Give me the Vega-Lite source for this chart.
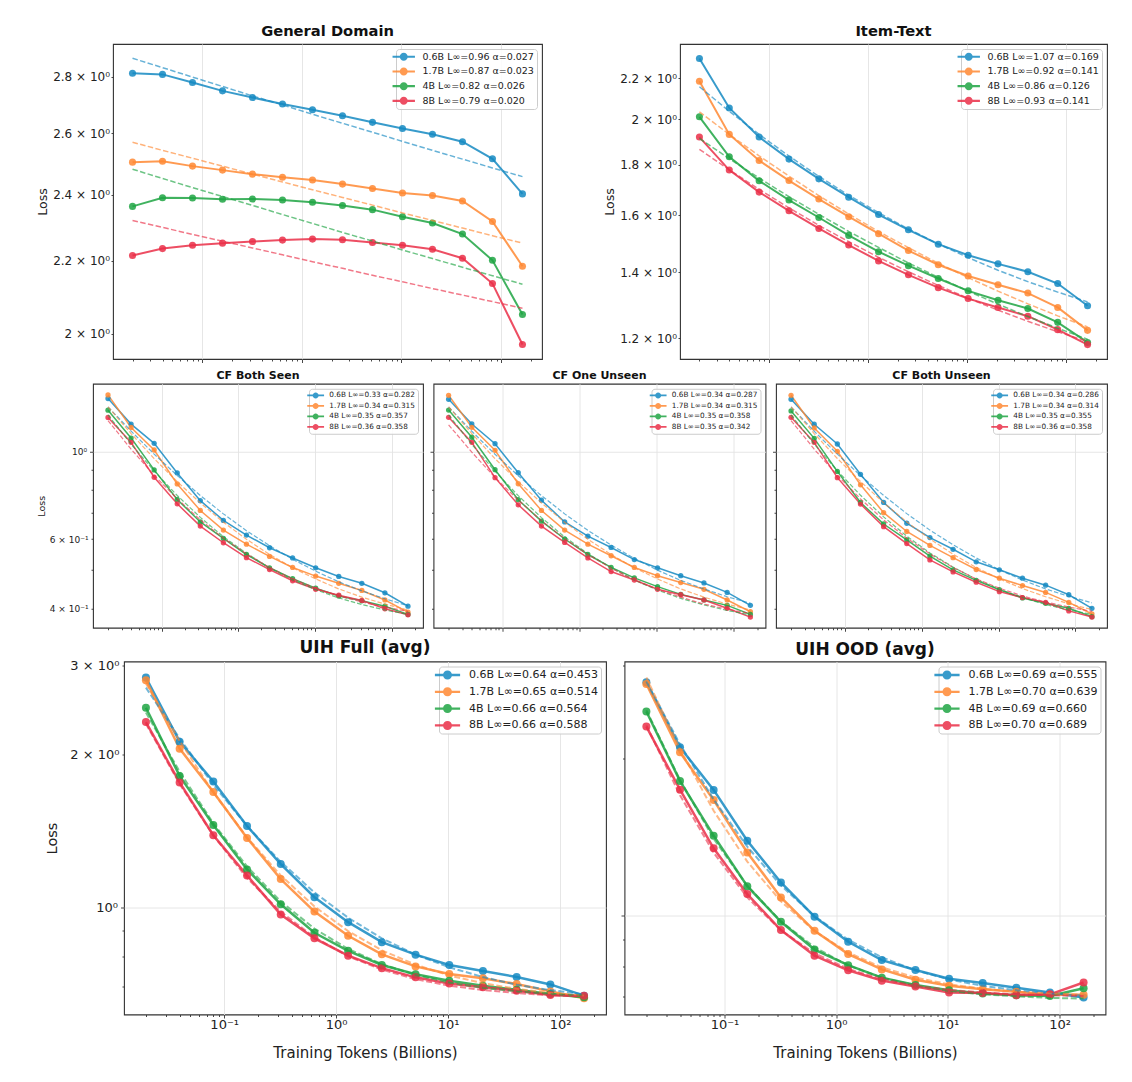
{
  "$schema": "https://vega.github.io/schema/vega-lite/v6.json",
  "padding": {"left": 34, "top": 23, "right": 5, "bottom": 5},
  "config": {
    "font": "DejaVu Sans",
    "view": {"stroke": "#333333", "strokeWidth": 1.1},
    "axis": {"domain": false, "tickColor": "#333333", "tickWidth": 0.9, "labelColor": "#222222", "titleColor": "#222222", "titleFontWeight": "normal", "gridColor": "#e3e3e3", "gridWidth": 0.9, "labelPadding": 3},
    "legend": {"title": null, "orient": "top-right", "offset": 5, "padding": 3, "fillColor": "rgba(255,255,255,0.85)", "strokeColor": "#cccccc", "cornerRadius": 3, "symbolStrokeWidth": 0, "symbolOpacity": 0.85, "labelLimit": 400, "labelColor": "#222222",
      "symbolType": "M-2.8,-0.26H2.8V0.26H-2.8Z M1,0A1,1 0 1,1 -1,0A1,1 0 1,1 1,0Z"},
    "title": {"fontWeight": "bold", "color": "#111111", "anchor": "middle"}
  },
  "datasets": {
    "d": [
      {"p":"gd","m":"0.6B","x":0.02,"y":2.813,"f":2.869},{"p":"gd","m":"0.6B","x":0.04,"y":2.809,"f":2.834},{"p":"gd","m":"0.6B","x":0.08,"y":2.779,"f":2.799},{"p":"gd","m":"0.6B","x":0.16,"y":2.749,"f":2.765},{"p":"gd","m":"0.6B","x":0.32,"y":2.725,"f":2.731},{"p":"gd","m":"0.6B","x":0.64,"y":2.702,"f":2.699},{"p":"gd","m":"0.6B","x":1.28,"y":2.682,"f":2.666},{"p":"gd","m":"0.6B","x":2.56,"y":2.661,"f":2.635},{"p":"gd","m":"0.6B","x":5.12,"y":2.638,"f":2.604},{"p":"gd","m":"0.6B","x":10.24,"y":2.617,"f":2.573},{"p":"gd","m":"0.6B","x":20.48,"y":2.597,"f":2.543},{"p":"gd","m":"0.6B","x":40.96,"y":2.572,"f":2.514},{"p":"gd","m":"0.6B","x":81.92,"y":2.515,"f":2.485},{"p":"gd","m":"0.6B","x":163.84,"y":2.402,"f":2.457},
      {"p":"gd","m":"1.7B","x":0.02,"y":2.504,"f":2.570},{"p":"gd","m":"1.7B","x":0.04,"y":2.507,"f":2.543},{"p":"gd","m":"1.7B","x":0.08,"y":2.491,"f":2.517},{"p":"gd","m":"1.7B","x":0.16,"y":2.478,"f":2.491},{"p":"gd","m":"1.7B","x":0.32,"y":2.465,"f":2.465},{"p":"gd","m":"1.7B","x":0.64,"y":2.455,"f":2.440},{"p":"gd","m":"1.7B","x":1.28,"y":2.446,"f":2.415},{"p":"gd","m":"1.7B","x":2.56,"y":2.433,"f":2.391},{"p":"gd","m":"1.7B","x":5.12,"y":2.419,"f":2.367},{"p":"gd","m":"1.7B","x":10.24,"y":2.405,"f":2.343},{"p":"gd","m":"1.7B","x":20.48,"y":2.397,"f":2.320},{"p":"gd","m":"1.7B","x":40.96,"y":2.380,"f":2.297},{"p":"gd","m":"1.7B","x":81.92,"y":2.317,"f":2.274},{"p":"gd","m":"1.7B","x":163.84,"y":2.185,"f":2.252},
      {"p":"gd","m":"4B","x":0.02,"y":2.363,"f":2.481},{"p":"gd","m":"4B","x":0.04,"y":2.390,"f":2.451},{"p":"gd","m":"4B","x":0.08,"y":2.389,"f":2.422},{"p":"gd","m":"4B","x":0.16,"y":2.385,"f":2.394},{"p":"gd","m":"4B","x":0.32,"y":2.386,"f":2.366},{"p":"gd","m":"4B","x":0.64,"y":2.383,"f":2.338},{"p":"gd","m":"4B","x":1.28,"y":2.376,"f":2.311},{"p":"gd","m":"4B","x":2.56,"y":2.366,"f":2.284},{"p":"gd","m":"4B","x":5.12,"y":2.353,"f":2.258},{"p":"gd","m":"4B","x":10.24,"y":2.331,"f":2.232},{"p":"gd","m":"4B","x":20.48,"y":2.312,"f":2.207},{"p":"gd","m":"4B","x":40.96,"y":2.279,"f":2.182},{"p":"gd","m":"4B","x":81.92,"y":2.202,"f":2.158},{"p":"gd","m":"4B","x":163.84,"y":2.051,"f":2.134},
      {"p":"gd","m":"8B","x":0.02,"y":2.216,"f":2.320},{"p":"gd","m":"8B","x":0.04,"y":2.236,"f":2.299},{"p":"gd","m":"8B","x":0.08,"y":2.246,"f":2.278},{"p":"gd","m":"8B","x":0.16,"y":2.252,"f":2.258},{"p":"gd","m":"8B","x":0.32,"y":2.257,"f":2.238},{"p":"gd","m":"8B","x":0.64,"y":2.261,"f":2.218},{"p":"gd","m":"8B","x":1.28,"y":2.264,"f":2.198},{"p":"gd","m":"8B","x":2.56,"y":2.262,"f":2.179},{"p":"gd","m":"8B","x":5.12,"y":2.254,"f":2.159},{"p":"gd","m":"8B","x":10.24,"y":2.246,"f":2.141},{"p":"gd","m":"8B","x":20.48,"y":2.234,"f":2.122},{"p":"gd","m":"8B","x":40.96,"y":2.208,"f":2.104},{"p":"gd","m":"8B","x":81.92,"y":2.136,"f":2.086},{"p":"gd","m":"8B","x":163.84,"y":1.972,"f":2.068},

      {"p":"it","m":"0.6B","x":0.02,"y":2.305,"f":2.158},{"p":"it","m":"0.6B","x":0.04,"y":2.054,"f":2.038},{"p":"it","m":"0.6B","x":0.08,"y":1.919,"f":1.931},{"p":"it","m":"0.6B","x":0.16,"y":1.823,"f":1.836},{"p":"it","m":"0.6B","x":0.32,"y":1.741,"f":1.751},{"p":"it","m":"0.6B","x":0.64,"y":1.668,"f":1.676},{"p":"it","m":"0.6B","x":1.28,"y":1.602,"f":1.609},{"p":"it","m":"0.6B","x":2.56,"y":1.546,"f":1.549},{"p":"it","m":"0.6B","x":5.12,"y":1.495,"f":1.496},{"p":"it","m":"0.6B","x":10.24,"y":1.457,"f":1.449},{"p":"it","m":"0.6B","x":20.48,"y":1.428,"f":1.407},{"p":"it","m":"0.6B","x":40.96,"y":1.402,"f":1.370},{"p":"it","m":"0.6B","x":81.92,"y":1.364,"f":1.337},{"p":"it","m":"0.6B","x":163.84,"y":1.295,"f":1.307},
      {"p":"it","m":"1.7B","x":0.02,"y":2.186,"f":2.035},{"p":"it","m":"1.7B","x":0.04,"y":1.931,"f":1.931},{"p":"it","m":"1.7B","x":0.08,"y":1.817,"f":1.837},{"p":"it","m":"1.7B","x":0.16,"y":1.734,"f":1.752},{"p":"it","m":"1.7B","x":0.32,"y":1.661,"f":1.674},{"p":"it","m":"1.7B","x":0.64,"y":1.594,"f":1.604},{"p":"it","m":"1.7B","x":1.28,"y":1.532,"f":1.540},{"p":"it","m":"1.7B","x":2.56,"y":1.473,"f":1.483},{"p":"it","m":"1.7B","x":5.12,"y":1.425,"f":1.430},{"p":"it","m":"1.7B","x":10.24,"y":1.388,"f":1.383},{"p":"it","m":"1.7B","x":20.48,"y":1.360,"f":1.340},{"p":"it","m":"1.7B","x":40.96,"y":1.334,"f":1.301},{"p":"it","m":"1.7B","x":81.92,"y":1.290,"f":1.265},{"p":"it","m":"1.7B","x":163.84,"y":1.223,"f":1.233},
      {"p":"it","m":"4B","x":0.02,"y":2.012,"f":1.913},{"p":"it","m":"4B","x":0.04,"y":1.833,"f":1.825},{"p":"it","m":"4B","x":0.08,"y":1.733,"f":1.744},{"p":"it","m":"4B","x":0.16,"y":1.657,"f":1.670},{"p":"it","m":"4B","x":0.32,"y":1.591,"f":1.603},{"p":"it","m":"4B","x":0.64,"y":1.526,"f":1.540},{"p":"it","m":"4B","x":1.28,"y":1.469,"f":1.484},{"p":"it","m":"4B","x":2.56,"y":1.422,"f":1.431},{"p":"it","m":"4B","x":5.12,"y":1.380,"f":1.384},{"p":"it","m":"4B","x":10.24,"y":1.341,"f":1.340},{"p":"it","m":"4B","x":20.48,"y":1.312,"f":1.300},{"p":"it","m":"4B","x":40.96,"y":1.287,"f":1.263},{"p":"it","m":"4B","x":81.92,"y":1.246,"f":1.229},{"p":"it","m":"4B","x":163.84,"y":1.189,"f":1.198},
      {"p":"it","m":"8B","x":0.02,"y":1.919,"f":1.865},{"p":"it","m":"8B","x":0.04,"y":1.777,"f":1.778},{"p":"it","m":"8B","x":0.08,"y":1.688,"f":1.699},{"p":"it","m":"8B","x":0.16,"y":1.616,"f":1.627},{"p":"it","m":"8B","x":0.32,"y":1.551,"f":1.562},{"p":"it","m":"8B","x":0.64,"y":1.492,"f":1.504},{"p":"it","m":"8B","x":1.28,"y":1.438,"f":1.450},{"p":"it","m":"8B","x":2.56,"y":1.392,"f":1.402},{"p":"it","m":"8B","x":5.12,"y":1.351,"f":1.358},{"p":"it","m":"8B","x":10.24,"y":1.317,"f":1.318},{"p":"it","m":"8B","x":20.48,"y":1.290,"f":1.282},{"p":"it","m":"8B","x":40.96,"y":1.264,"f":1.249},{"p":"it","m":"8B","x":81.92,"y":1.225,"f":1.219},{"p":"it","m":"8B","x":163.84,"y":1.183,"f":1.192},

      {"p":"cs","m":"0.6B","x":0.02,"y":1.365,"f":1.300},{"p":"cs","m":"0.6B","x":0.04,"y":1.175,"f":1.128},{"p":"cs","m":"0.6B","x":0.08,"y":1.050,"f":0.986},{"p":"cs","m":"0.6B","x":0.16,"y":0.883,"f":0.870},{"p":"cs","m":"0.6B","x":0.32,"y":0.751,"f":0.774},{"p":"cs","m":"0.6B","x":0.64,"y":0.669,"f":0.695},{"p":"cs","m":"0.6B","x":1.28,"y":0.614,"f":0.630},{"p":"cs","m":"0.6B","x":2.56,"y":0.570,"f":0.577},{"p":"cs","m":"0.6B","x":5.12,"y":0.537,"f":0.533},{"p":"cs","m":"0.6B","x":10.24,"y":0.507,"f":0.497},{"p":"cs","m":"0.6B","x":20.48,"y":0.482,"f":0.467},{"p":"cs","m":"0.6B","x":40.96,"y":0.463,"f":0.443},{"p":"cs","m":"0.6B","x":81.92,"y":0.438,"f":0.423},{"p":"cs","m":"0.6B","x":163.84,"y":0.405,"f":0.406},
      {"p":"cs","m":"1.7B","x":0.02,"y":1.394,"f":1.300},{"p":"cs","m":"1.7B","x":0.04,"y":1.152,"f":1.112},{"p":"cs","m":"1.7B","x":0.08,"y":1.010,"f":0.960},{"p":"cs","m":"1.7B","x":0.16,"y":0.828,"f":0.839},{"p":"cs","m":"1.7B","x":0.32,"y":0.709,"f":0.741},{"p":"cs","m":"1.7B","x":0.64,"y":0.632,"f":0.662},{"p":"cs","m":"1.7B","x":1.28,"y":0.582,"f":0.599},{"p":"cs","m":"1.7B","x":2.56,"y":0.542,"f":0.548},{"p":"cs","m":"1.7B","x":5.12,"y":0.508,"f":0.507},{"p":"cs","m":"1.7B","x":10.24,"y":0.483,"f":0.475},{"p":"cs","m":"1.7B","x":20.48,"y":0.463,"f":0.448},{"p":"cs","m":"1.7B","x":40.96,"y":0.444,"f":0.427},{"p":"cs","m":"1.7B","x":81.92,"y":0.420,"f":0.410},{"p":"cs","m":"1.7B","x":163.84,"y":0.391,"f":0.396},
      {"p":"cs","m":"4B","x":0.02,"y":1.275,"f":1.240},{"p":"cs","m":"4B","x":0.04,"y":1.083,"f":1.045},{"p":"cs","m":"4B","x":0.08,"y":0.899,"f":0.893},{"p":"cs","m":"4B","x":0.16,"y":0.756,"f":0.774},{"p":"cs","m":"4B","x":0.32,"y":0.663,"f":0.681},{"p":"cs","m":"4B","x":0.64,"y":0.602,"f":0.608},{"p":"cs","m":"4B","x":1.28,"y":0.548,"f":0.552},{"p":"cs","m":"4B","x":2.56,"y":0.507,"f":0.507},{"p":"cs","m":"4B","x":5.12,"y":0.476,"f":0.473},{"p":"cs","m":"4B","x":10.24,"y":0.450,"f":0.446},{"p":"cs","m":"4B","x":20.48,"y":0.430,"f":0.425},{"p":"cs","m":"4B","x":40.96,"y":0.418,"f":0.409},{"p":"cs","m":"4B","x":81.92,"y":0.405,"f":0.396},{"p":"cs","m":"4B","x":163.84,"y":0.386,"f":0.386},
      {"p":"cs","m":"8B","x":0.02,"y":1.222,"f":1.200},{"p":"cs","m":"8B","x":0.04,"y":1.056,"f":1.015},{"p":"cs","m":"8B","x":0.08,"y":0.861,"f":0.871},{"p":"cs","m":"8B","x":0.16,"y":0.737,"f":0.759},{"p":"cs","m":"8B","x":0.32,"y":0.647,"f":0.671},{"p":"cs","m":"8B","x":0.64,"y":0.587,"f":0.603},{"p":"cs","m":"8B","x":1.28,"y":0.538,"f":0.550},{"p":"cs","m":"8B","x":2.56,"y":0.502,"f":0.508},{"p":"cs","m":"8B","x":5.12,"y":0.470,"f":0.475},{"p":"cs","m":"8B","x":10.24,"y":0.447,"f":0.450},{"p":"cs","m":"8B","x":20.48,"y":0.432,"f":0.430},{"p":"cs","m":"8B","x":40.96,"y":0.419,"f":0.415},{"p":"cs","m":"8B","x":81.92,"y":0.399,"f":0.403},{"p":"cs","m":"8B","x":163.84,"y":0.385,"f":0.393},

      {"p":"co","m":"0.6B","x":0.02,"y":1.359,"f":1.300},{"p":"co","m":"0.6B","x":0.04,"y":1.176,"f":1.127},{"p":"co","m":"0.6B","x":0.08,"y":1.048,"f":0.985},{"p":"co","m":"0.6B","x":0.16,"y":0.884,"f":0.869},{"p":"co","m":"0.6B","x":0.32,"y":0.753,"f":0.773},{"p":"co","m":"0.6B","x":0.64,"y":0.663,"f":0.695},{"p":"co","m":"0.6B","x":1.28,"y":0.610,"f":0.631},{"p":"co","m":"0.6B","x":2.56,"y":0.571,"f":0.579},{"p":"co","m":"0.6B","x":5.12,"y":0.532,"f":0.536},{"p":"co","m":"0.6B","x":10.24,"y":0.507,"f":0.500},{"p":"co","m":"0.6B","x":20.48,"y":0.484,"f":0.471},{"p":"co","m":"0.6B","x":40.96,"y":0.464,"f":0.448},{"p":"co","m":"0.6B","x":81.92,"y":0.439,"f":0.428},{"p":"co","m":"0.6B","x":163.84,"y":0.407,"f":0.412},
      {"p":"co","m":"1.7B","x":0.02,"y":1.391,"f":1.300},{"p":"co","m":"1.7B","x":0.04,"y":1.153,"f":1.112},{"p":"co","m":"1.7B","x":0.08,"y":1.008,"f":0.960},{"p":"co","m":"1.7B","x":0.16,"y":0.829,"f":0.839},{"p":"co","m":"1.7B","x":0.32,"y":0.709,"f":0.741},{"p":"co","m":"1.7B","x":0.64,"y":0.632,"f":0.662},{"p":"co","m":"1.7B","x":1.28,"y":0.582,"f":0.599},{"p":"co","m":"1.7B","x":2.56,"y":0.544,"f":0.548},{"p":"co","m":"1.7B","x":5.12,"y":0.508,"f":0.507},{"p":"co","m":"1.7B","x":10.24,"y":0.484,"f":0.475},{"p":"co","m":"1.7B","x":20.48,"y":0.465,"f":0.448},{"p":"co","m":"1.7B","x":40.96,"y":0.447,"f":0.427},{"p":"co","m":"1.7B","x":81.92,"y":0.420,"f":0.410},{"p":"co","m":"1.7B","x":163.84,"y":0.392,"f":0.396},
      {"p":"co","m":"4B","x":0.02,"y":1.276,"f":1.240},{"p":"co","m":"4B","x":0.04,"y":1.088,"f":1.044},{"p":"co","m":"4B","x":0.08,"y":0.900,"f":0.892},{"p":"co","m":"4B","x":0.16,"y":0.755,"f":0.773},{"p":"co","m":"4B","x":0.32,"y":0.666,"f":0.680},{"p":"co","m":"4B","x":0.64,"y":0.600,"f":0.607},{"p":"co","m":"4B","x":1.28,"y":0.548,"f":0.551},{"p":"co","m":"4B","x":2.56,"y":0.508,"f":0.507},{"p":"co","m":"4B","x":5.12,"y":0.478,"f":0.472},{"p":"co","m":"4B","x":10.24,"y":0.454,"f":0.445},{"p":"co","m":"4B","x":20.48,"y":0.434,"f":0.424},{"p":"co","m":"4B","x":40.96,"y":0.420,"f":0.408},{"p":"co","m":"4B","x":81.92,"y":0.407,"f":0.395},{"p":"co","m":"4B","x":163.84,"y":0.386,"f":0.385},
      {"p":"co","m":"8B","x":0.02,"y":1.223,"f":1.170},{"p":"co","m":"8B","x":0.04,"y":1.056,"f":0.997},{"p":"co","m":"8B","x":0.08,"y":0.859,"f":0.860},{"p":"co","m":"8B","x":0.16,"y":0.733,"f":0.753},{"p":"co","m":"8B","x":0.32,"y":0.647,"f":0.668},{"p":"co","m":"8B","x":0.64,"y":0.588,"f":0.601},{"p":"co","m":"8B","x":1.28,"y":0.537,"f":0.548},{"p":"co","m":"8B","x":2.56,"y":0.496,"f":0.506},{"p":"co","m":"8B","x":5.12,"y":0.472,"f":0.473},{"p":"co","m":"8B","x":10.24,"y":0.447,"f":0.447},{"p":"co","m":"8B","x":20.48,"y":0.433,"f":0.427},{"p":"co","m":"8B","x":40.96,"y":0.420,"f":0.410},{"p":"co","m":"8B","x":81.92,"y":0.400,"f":0.398},{"p":"co","m":"8B","x":163.84,"y":0.380,"f":0.388},

      {"p":"cu","m":"0.6B","x":0.02,"y":1.359,"f":1.300},{"p":"cu","m":"0.6B","x":0.04,"y":1.174,"f":1.127},{"p":"cu","m":"0.6B","x":0.08,"y":1.046,"f":0.986},{"p":"cu","m":"0.6B","x":0.16,"y":0.876,"f":0.870},{"p":"cu","m":"0.6B","x":0.32,"y":0.743,"f":0.774},{"p":"cu","m":"0.6B","x":0.64,"y":0.658,"f":0.696},{"p":"cu","m":"0.6B","x":1.28,"y":0.605,"f":0.632},{"p":"cu","m":"0.6B","x":2.56,"y":0.565,"f":0.580},{"p":"cu","m":"0.6B","x":5.12,"y":0.525,"f":0.537},{"p":"cu","m":"0.6B","x":10.24,"y":0.501,"f":0.501},{"p":"cu","m":"0.6B","x":20.48,"y":0.477,"f":0.472},{"p":"cu","m":"0.6B","x":40.96,"y":0.458,"f":0.448},{"p":"cu","m":"0.6B","x":81.92,"y":0.433,"f":0.429},{"p":"cu","m":"0.6B","x":163.84,"y":0.400,"f":0.413},
      {"p":"cu","m":"1.7B","x":0.02,"y":1.391,"f":1.300},{"p":"cu","m":"1.7B","x":0.04,"y":1.149,"f":1.112},{"p":"cu","m":"1.7B","x":0.08,"y":1.002,"f":0.961},{"p":"cu","m":"1.7B","x":0.16,"y":0.824,"f":0.840},{"p":"cu","m":"1.7B","x":0.32,"y":0.700,"f":0.742},{"p":"cu","m":"1.7B","x":0.64,"y":0.627,"f":0.663},{"p":"cu","m":"1.7B","x":1.28,"y":0.578,"f":0.600},{"p":"cu","m":"1.7B","x":2.56,"y":0.538,"f":0.549},{"p":"cu","m":"1.7B","x":5.12,"y":0.502,"f":0.508},{"p":"cu","m":"1.7B","x":10.24,"y":0.477,"f":0.475},{"p":"cu","m":"1.7B","x":20.48,"y":0.457,"f":0.449},{"p":"cu","m":"1.7B","x":40.96,"y":0.439,"f":0.428},{"p":"cu","m":"1.7B","x":81.92,"y":0.414,"f":0.411},{"p":"cu","m":"1.7B","x":163.84,"y":0.387,"f":0.397},
      {"p":"cu","m":"4B","x":0.02,"y":1.269,"f":1.240},{"p":"cu","m":"4B","x":0.04,"y":1.081,"f":1.046},{"p":"cu","m":"4B","x":0.08,"y":0.891,"f":0.894},{"p":"cu","m":"4B","x":0.16,"y":0.743,"f":0.775},{"p":"cu","m":"4B","x":0.32,"y":0.655,"f":0.683},{"p":"cu","m":"4B","x":0.64,"y":0.597,"f":0.610},{"p":"cu","m":"4B","x":1.28,"y":0.543,"f":0.553},{"p":"cu","m":"4B","x":2.56,"y":0.501,"f":0.509},{"p":"cu","m":"4B","x":5.12,"y":0.471,"f":0.474},{"p":"cu","m":"4B","x":10.24,"y":0.446,"f":0.447},{"p":"cu","m":"4B","x":20.48,"y":0.425,"f":0.426},{"p":"cu","m":"4B","x":40.96,"y":0.412,"f":0.409},{"p":"cu","m":"4B","x":81.92,"y":0.400,"f":0.396},{"p":"cu","m":"4B","x":163.84,"y":0.381,"f":0.386},
      {"p":"cu","m":"8B","x":0.02,"y":1.223,"f":1.200},{"p":"cu","m":"8B","x":0.04,"y":1.056,"f":1.015},{"p":"cu","m":"8B","x":0.08,"y":0.859,"f":0.871},{"p":"cu","m":"8B","x":0.16,"y":0.736,"f":0.759},{"p":"cu","m":"8B","x":0.32,"y":0.645,"f":0.671},{"p":"cu","m":"8B","x":0.64,"y":0.584,"f":0.603},{"p":"cu","m":"8B","x":1.28,"y":0.531,"f":0.550},{"p":"cu","m":"8B","x":2.56,"y":0.495,"f":0.508},{"p":"cu","m":"8B","x":5.12,"y":0.466,"f":0.475},{"p":"cu","m":"8B","x":10.24,"y":0.441,"f":0.450},{"p":"cu","m":"8B","x":20.48,"y":0.426,"f":0.430},{"p":"cu","m":"8B","x":40.96,"y":0.414,"f":0.415},{"p":"cu","m":"8B","x":81.92,"y":0.394,"f":0.403},{"p":"cu","m":"8B","x":163.84,"y":0.380,"f":0.393},

      {"p":"uf","m":"0.6B","x":0.02,"y":2.836,"f":2.710},{"p":"uf","m":"0.6B","x":0.04,"y":2.121,"f":2.152},{"p":"uf","m":"0.6B","x":0.08,"y":1.771,"f":1.745},{"p":"uf","m":"0.6B","x":0.16,"y":1.447,"f":1.447},{"p":"uf","m":"0.6B","x":0.32,"y":1.218,"f":1.230},{"p":"uf","m":"0.6B","x":0.64,"y":1.048,"f":1.071},{"p":"uf","m":"0.6B","x":1.28,"y":0.936,"f":0.955},{"p":"uf","m":"0.6B","x":2.56,"y":0.855,"f":0.870},{"p":"uf","m":"0.6B","x":5.12,"y":0.808,"f":0.808},{"p":"uf","m":"0.6B","x":10.24,"y":0.771,"f":0.763},{"p":"uf","m":"0.6B","x":20.48,"y":0.750,"f":0.730},{"p":"uf","m":"0.6B","x":40.96,"y":0.730,"f":0.705},{"p":"uf","m":"0.6B","x":81.92,"y":0.706,"f":0.688},{"p":"uf","m":"0.6B","x":163.84,"y":0.671,"f":0.675},
      {"p":"uf","m":"1.7B","x":0.02,"y":2.802,"f":2.760},{"p":"uf","m":"1.7B","x":0.04,"y":2.055,"f":2.128},{"p":"uf","m":"1.7B","x":0.08,"y":1.688,"f":1.685},{"p":"uf","m":"1.7B","x":0.16,"y":1.371,"f":1.375},{"p":"uf","m":"1.7B","x":0.32,"y":1.138,"f":1.157},{"p":"uf","m":"1.7B","x":0.64,"y":0.982,"f":1.005},{"p":"uf","m":"1.7B","x":1.28,"y":0.880,"f":0.899},{"p":"uf","m":"1.7B","x":2.56,"y":0.809,"f":0.824},{"p":"uf","m":"1.7B","x":5.12,"y":0.766,"f":0.772},{"p":"uf","m":"1.7B","x":10.24,"y":0.740,"f":0.735},{"p":"uf","m":"1.7B","x":20.48,"y":0.726,"f":0.710},{"p":"uf","m":"1.7B","x":40.96,"y":0.707,"f":0.692},{"p":"uf","m":"1.7B","x":81.92,"y":0.684,"f":0.679},{"p":"uf","m":"1.7B","x":163.84,"y":0.663,"f":0.671},
      {"p":"uf","m":"4B","x":0.02,"y":2.473,"f":2.420},{"p":"uf","m":"4B","x":0.04,"y":1.816,"f":1.851},{"p":"uf","m":"4B","x":0.08,"y":1.454,"f":1.465},{"p":"uf","m":"4B","x":0.16,"y":1.189,"f":1.205},{"p":"uf","m":"4B","x":0.32,"y":1.015,"f":1.028},{"p":"uf","m":"4B","x":0.64,"y":0.892,"f":0.909},{"p":"uf","m":"4B","x":1.28,"y":0.822,"f":0.829},{"p":"uf","m":"4B","x":2.56,"y":0.771,"f":0.774},{"p":"uf","m":"4B","x":5.12,"y":0.739,"f":0.737},{"p":"uf","m":"4B","x":10.24,"y":0.718,"f":0.712},{"p":"uf","m":"4B","x":20.48,"y":0.702,"f":0.695},{"p":"uf","m":"4B","x":40.96,"y":0.689,"f":0.684},{"p":"uf","m":"4B","x":81.92,"y":0.676,"f":0.676},{"p":"uf","m":"4B","x":163.84,"y":0.666,"f":0.671},
      {"p":"uf","m":"8B","x":0.02,"y":2.318,"f":2.300},{"p":"uf","m":"8B","x":0.04,"y":1.763,"f":1.751},{"p":"uf","m":"8B","x":0.08,"y":1.388,"f":1.386},{"p":"uf","m":"8B","x":0.16,"y":1.157,"f":1.143},{"p":"uf","m":"8B","x":0.32,"y":0.969,"f":0.981},{"p":"uf","m":"8B","x":0.64,"y":0.870,"f":0.874},{"p":"uf","m":"8B","x":1.28,"y":0.804,"f":0.802},{"p":"uf","m":"8B","x":2.56,"y":0.760,"f":0.755},{"p":"uf","m":"8B","x":5.12,"y":0.729,"f":0.723},{"p":"uf","m":"8B","x":10.24,"y":0.709,"f":0.702},{"p":"uf","m":"8B","x":20.48,"y":0.697,"f":0.688},{"p":"uf","m":"8B","x":40.96,"y":0.686,"f":0.679},{"p":"uf","m":"8B","x":81.92,"y":0.673,"f":0.672},{"p":"uf","m":"8B","x":163.84,"y":0.671,"f":0.668},

      {"p":"uo","m":"0.6B","x":0.02,"y":2.792,"f":2.800},{"p":"uo","m":"0.6B","x":0.04,"y":2.097,"f":2.126},{"p":"uo","m":"0.6B","x":0.08,"y":1.739,"f":1.668},{"p":"uo","m":"0.6B","x":0.16,"y":1.391,"f":1.355},{"p":"uo","m":"0.6B","x":0.32,"y":1.158,"f":1.143},{"p":"uo","m":"0.6B","x":0.64,"y":0.996,"f":0.998},{"p":"uo","m":"0.6B","x":1.28,"y":0.892,"f":0.900},{"p":"uo","m":"0.6B","x":2.56,"y":0.823,"f":0.833},{"p":"uo","m":"0.6B","x":5.12,"y":0.788,"f":0.787},{"p":"uo","m":"0.6B","x":10.24,"y":0.758,"f":0.756},{"p":"uo","m":"0.6B","x":20.48,"y":0.744,"f":0.735},{"p":"uo","m":"0.6B","x":40.96,"y":0.729,"f":0.721},{"p":"uo","m":"0.6B","x":81.92,"y":0.714,"f":0.711},{"p":"uo","m":"0.6B","x":163.84,"y":0.698,"f":0.704},
      {"p":"uo","m":"1.7B","x":0.02,"y":2.771,"f":2.850},{"p":"uo","m":"1.7B","x":0.04,"y":2.051,"f":2.081},{"p":"uo","m":"1.7B","x":0.08,"y":1.663,"f":1.587},{"p":"uo","m":"1.7B","x":0.16,"y":1.321,"f":1.269},{"p":"uo","m":"1.7B","x":0.32,"y":1.084,"f":1.066},{"p":"uo","m":"1.7B","x":0.64,"y":0.936,"f":0.935},{"p":"uo","m":"1.7B","x":1.28,"y":0.845,"f":0.851},{"p":"uo","m":"1.7B","x":2.56,"y":0.790,"f":0.797},{"p":"uo","m":"1.7B","x":5.12,"y":0.755,"f":0.762},{"p":"uo","m":"1.7B","x":10.24,"y":0.735,"f":0.740},{"p":"uo","m":"1.7B","x":20.48,"y":0.724,"f":0.726},{"p":"uo","m":"1.7B","x":40.96,"y":0.716,"f":0.716},{"p":"uo","m":"1.7B","x":81.92,"y":0.707,"f":0.711},{"p":"uo","m":"1.7B","x":163.84,"y":0.707,"f":0.707},
      {"p":"uo","m":"4B","x":0.02,"y":2.454,"f":2.470},{"p":"uo","m":"4B","x":0.04,"y":1.808,"f":1.817},{"p":"uo","m":"4B","x":0.08,"y":1.422,"f":1.403},{"p":"uo","m":"4B","x":0.16,"y":1.139,"f":1.141},{"p":"uo","m":"4B","x":0.32,"y":0.974,"f":0.976},{"p":"uo","m":"4B","x":0.64,"y":0.862,"f":0.871},{"p":"uo","m":"4B","x":1.28,"y":0.805,"f":0.804},{"p":"uo","m":"4B","x":2.56,"y":0.762,"f":0.762},{"p":"uo","m":"4B","x":5.12,"y":0.738,"f":0.736},{"p":"uo","m":"4B","x":10.24,"y":0.721,"f":0.719},{"p":"uo","m":"4B","x":20.48,"y":0.711,"f":0.708},{"p":"uo","m":"4B","x":40.96,"y":0.705,"f":0.702},{"p":"uo","m":"4B","x":81.92,"y":0.703,"f":0.697},{"p":"uo","m":"4B","x":163.84,"y":0.727,"f":0.695},
      {"p":"uo","m":"8B","x":0.02,"y":2.297,"f":2.310},{"p":"uo","m":"8B","x":0.04,"y":1.741,"f":1.699},{"p":"uo","m":"8B","x":0.08,"y":1.345,"f":1.320},{"p":"uo","m":"8B","x":0.16,"y":1.100,"f":1.084},{"p":"uo","m":"8B","x":0.32,"y":0.939,"f":0.938},{"p":"uo","m":"8B","x":0.64,"y":0.839,"f":0.848},{"p":"uo","m":"8B","x":1.28,"y":0.787,"f":0.792},{"p":"uo","m":"8B","x":2.56,"y":0.752,"f":0.757},{"p":"uo","m":"8B","x":5.12,"y":0.733,"f":0.735},{"p":"uo","m":"8B","x":10.24,"y":0.714,"f":0.722},{"p":"uo","m":"8B","x":20.48,"y":0.712,"f":0.714},{"p":"uo","m":"8B","x":40.96,"y":0.705,"f":0.708},{"p":"uo","m":"8B","x":81.92,"y":0.708,"f":0.705},{"p":"uo","m":"8B","x":163.84,"y":0.746,"f":0.703}
    ]
  },
  "data": {"name": "d"},
  "spacing": 4.75,
  "resolve": {"scale": {"color": "independent"}, "legend": {"color": "independent"}},
  "vconcat": [
    {
      "hconcat": [
        {"width": 1, "height": 1, "view": {"stroke": null}, "data": {"values": []}, "mark": {"type": "point", "opacity": 0}},
        {
          "hconcat": [
            {
              "width": 429, "height": 315,
              "title": {"text": "General Domain", "fontSize": 14.7, "offset": 5},
              "transform": [{"filter": "datum.p == 'gd'"}],
              "resolve": {"legend": {"color": "independent"}},
              "encoding": {
                "x": {"field": "x", "type": "quantitative", "scale": {"type": "log", "domain": [0.01274, 257.3], "nice": false},
                  "axis": {"values": [0.02,0.03,0.04,0.05,0.06,0.07,0.08,0.09,0.1,0.2,0.3,0.4,0.5,0.6,0.7,0.8,0.9,1,2,3,4,5,6,7,8,9,10,20,30,40,50,60,70,80,90,100,200], "labels": false, "title": null, "grid": true,
                    "gridOpacity": {"condition": {"test": "datum.value==0.1||datum.value==1||datum.value==10||datum.value==100", "value": 1}, "value": 0},
                    "tickSize": {"condition": {"test": "datum.value==0.1||datum.value==1||datum.value==10||datum.value==100", "value": 3.5}, "value": 2}}},
                "y": {"field": "y", "type": "quantitative", "scale": {"type": "log", "domain": [1.935, 2.923], "nice": false},
                  "axis": {"title": "Loss", "values": [2, 2.2, 2.4, 2.6, 2.8], "labelExpr": "datum.value == 2 ? '2 × 10⁰' : format(datum.value, '.1f') + ' × 10⁰'", "grid": false, "tickSize": 2, "labelPadding": 1.5, "labelFontSize": 12, "titleFontSize": 12.5, "minExtent": 60, "maxExtent": 60, "titlePadding": 3.5}}
              },
              "layer": [
                {"mark": {"type": "line", "strokeWidth": 2, "opacity": 0.85},
                  "encoding": {"color": {"field": "m", "type": "nominal", "scale": {"domain": ["0.6B","1.7B","4B","8B"], "range": ["#1589c2","#ff8833","#1fa443","#ea2f48"]}, "legend": null}}},
                {"mark": {"type": "point", "filled": true, "size": 50, "opacity": 0.85},
                  "encoding": {"color": {"field": "m", "type": "nominal", "scale": {"domain": ["0.6B","1.7B","4B","8B"], "range": ["#1589c2","#ff8833","#1fa443","#ea2f48"]},
                    "legend": {"labelFontSize": 9.5, "symbolSize": 64, "labelOffset": 14, "rowPadding": 3.7,
                      "labelExpr": "datum.label == '0.6B' ? '0.6B L∞=0.96 α=0.027' : datum.label == '1.7B' ? '1.7B L∞=0.87 α=0.023' : datum.label == '4B' ? '4B L∞=0.82 α=0.026' : '8B L∞=0.79 α=0.020'"}}}},
                {"mark": {"type": "line", "strokeWidth": 1.5, "strokeDash": [5.5, 2.4], "opacity": 0.65},
                  "encoding": {"color": {"field": "m", "type": "nominal", "scale": {"domain": ["0.6B","1.7B","4B","8B"], "range": ["#1589c2","#ff8833","#1fa443","#ea2f48"]}, "legend": null},
                    "y": {"field": "f", "type": "quantitative", "scale": {"type": "log", "domain": [1.935, 2.923], "nice": false},
                      "axis": {"title": "Loss", "values": [2, 2.2, 2.4, 2.6, 2.8], "labelExpr": "datum.value == 2 ? '2 × 10⁰' : format(datum.value, '.1f') + ' × 10⁰'", "grid": false, "tickSize": 2, "labelPadding": 1.5, "labelFontSize": 12, "titleFontSize": 12.5, "minExtent": 60, "maxExtent": 60, "titlePadding": 3.5}}}}
              ]
            },
            {
              "width": 427, "height": 315,
              "title": {"text": "Item-Text", "fontSize": 14.7, "offset": 5},
              "transform": [{"filter": "datum.p == 'it'"}],
              "resolve": {"legend": {"color": "independent"}},
              "encoding": {
                "x": {"field": "x", "type": "quantitative", "scale": {"type": "log", "domain": [0.01274, 257.3], "nice": false},
                  "axis": {"values": [0.02,0.03,0.04,0.05,0.06,0.07,0.08,0.09,0.1,0.2,0.3,0.4,0.5,0.6,0.7,0.8,0.9,1,2,3,4,5,6,7,8,9,10,20,30,40,50,60,70,80,90,100,200], "labels": false, "title": null, "grid": true,
                    "gridOpacity": {"condition": {"test": "datum.value==0.1||datum.value==1||datum.value==10||datum.value==100", "value": 1}, "value": 0},
                    "tickSize": {"condition": {"test": "datum.value==0.1||datum.value==1||datum.value==10||datum.value==100", "value": 3.5}, "value": 2}}},
                "y": {"field": "y", "type": "quantitative", "scale": {"type": "log", "domain": [1.144, 2.384], "nice": false},
                  "axis": {"title": "Loss", "values": [1.2, 1.4, 1.6, 1.8, 2, 2.2], "labelExpr": "datum.value == 2 ? '2 × 10⁰' : format(datum.value, '.1f') + ' × 10⁰'", "grid": false, "tickSize": 2, "labelPadding": 1.5, "labelFontSize": 12, "titleFontSize": 12.5, "minExtent": 60, "maxExtent": 60, "titlePadding": 3.5}}
              },
              "layer": [
                {"mark": {"type": "line", "strokeWidth": 2, "opacity": 0.85},
                  "encoding": {"color": {"field": "m", "type": "nominal", "scale": {"domain": ["0.6B","1.7B","4B","8B"], "range": ["#1589c2","#ff8833","#1fa443","#ea2f48"]}, "legend": null}}},
                {"mark": {"type": "point", "filled": true, "size": 50, "opacity": 0.85},
                  "encoding": {"color": {"field": "m", "type": "nominal", "scale": {"domain": ["0.6B","1.7B","4B","8B"], "range": ["#1589c2","#ff8833","#1fa443","#ea2f48"]},
                    "legend": {"labelFontSize": 9.5, "symbolSize": 64, "labelOffset": 14, "rowPadding": 3.7,
                      "labelExpr": "datum.label == '0.6B' ? '0.6B L∞=1.07 α=0.169' : datum.label == '1.7B' ? '1.7B L∞=0.92 α=0.141' : datum.label == '4B' ? '4B L∞=0.86 α=0.126' : '8B L∞=0.93 α=0.141'"}}}},
                {"mark": {"type": "line", "strokeWidth": 1.5, "strokeDash": [5.5, 2.4], "opacity": 0.65},
                  "encoding": {"color": {"field": "m", "type": "nominal", "scale": {"domain": ["0.6B","1.7B","4B","8B"], "range": ["#1589c2","#ff8833","#1fa443","#ea2f48"]}, "legend": null},
                    "y": {"field": "f", "type": "quantitative", "scale": {"type": "log", "domain": [1.144, 2.384], "nice": false},
                      "axis": {"title": "Loss", "values": [1.2, 1.4, 1.6, 1.8, 2, 2.2], "labelExpr": "datum.value == 2 ? '2 × 10⁰' : format(datum.value, '.1f') + ' × 10⁰'", "grid": false, "tickSize": 2, "labelPadding": 1.5, "labelFontSize": 12, "titleFontSize": 12.5, "minExtent": 60, "maxExtent": 60, "titlePadding": 3.5}}}}
              ]
            }
          ],
          "spacing": 59, "bounds": "full",
          "resolve": {"scale": {"color": "independent"}, "legend": {"color": "independent"}}
        }
      ],
      "spacing": 0, "bounds": "full",
      "resolve": {"scale": {"color": "independent"}, "legend": {"color": "independent"}}
    },
    {
      "hconcat": [
        {"width": 1, "height": 1, "view": {"stroke": null}, "data": {"values": []}, "mark": {"type": "point", "opacity": 0}},
        {
          "hconcat": [
            {
              "width": 330, "height": 244,
              "title": {"text": "CF Both Seen", "fontSize": 11, "offset": 3},
              "transform": [{"filter": "datum.p == 'cs'"}],
              "resolve": {"legend": {"color": "independent"}},
              "encoding": {
                "x": {"field": "x", "type": "quantitative", "scale": {"type": "log", "domain": [0.01274, 257.3], "nice": false},
                  "axis": {"values": [0.02,0.03,0.04,0.05,0.06,0.07,0.08,0.09,0.1,0.2,0.3,0.4,0.5,0.6,0.7,0.8,0.9,1,2,3,4,5,6,7,8,9,10,20,30,40,50,60,70,80,90,100,200], "labels": false, "title": null, "grid": true,
                    "gridOpacity": {"condition": {"test": "datum.value==0.1||datum.value==1||datum.value==10||datum.value==100", "value": 1}, "value": 0},
                    "tickSize": {"condition": {"test": "datum.value==0.1||datum.value==1||datum.value==10||datum.value==100", "value": 3.5}, "value": 2}}},
                "y": {"field": "y", "type": "quantitative", "scale": {"type": "log", "domain": [0.357, 1.488], "nice": false},
                  "axis": {"title": "Loss", "values": [0.4, 0.5, 0.6, 0.7, 0.8, 0.9, 1], "labelExpr": "datum.value == 1 ? '10⁰' : datum.value == 0.6 ? '6 × 10⁻¹' : datum.value == 0.4 ? '4 × 10⁻¹' : ''", "grid": true,
                    "gridOpacity": {"condition": {"test": "datum.value == 1", "value": 1}, "value": 0},
                    "tickSize": {"condition": {"test": "datum.value == 1", "value": 3.5}, "value": 2}, "labelFontSize": 9, "titleFontSize": 9.5, "minExtent": 42, "maxExtent": 42, "titlePadding": 4.5}}
              },
              "layer": [
                {"mark": {"type": "line", "strokeWidth": 1.5, "opacity": 0.85},
                  "encoding": {"color": {"field": "m", "type": "nominal", "scale": {"domain": ["0.6B","1.7B","4B","8B"], "range": ["#1589c2","#ff8833","#1fa443","#ea2f48"]}, "legend": null}}},
                {"mark": {"type": "point", "filled": true, "size": 28, "opacity": 0.85},
                  "encoding": {"color": {"field": "m", "type": "nominal", "scale": {"domain": ["0.6B","1.7B","4B","8B"], "range": ["#1589c2","#ff8833","#1fa443","#ea2f48"]},
                    "legend": {"labelFontSize": 7.3, "symbolSize": 36, "labelOffset": 10, "rowPadding": 2.5,
                      "labelExpr": "datum.label == '0.6B' ? '0.6B L∞=0.33 α=0.282' : datum.label == '1.7B' ? '1.7B L∞=0.34 α=0.315' : datum.label == '4B' ? '4B L∞=0.35 α=0.357' : '8B L∞=0.36 α=0.358'"}}}},
                {"mark": {"type": "line", "strokeWidth": 1.2, "strokeDash": [4.5, 2], "opacity": 0.65},
                  "encoding": {"color": {"field": "m", "type": "nominal", "scale": {"domain": ["0.6B","1.7B","4B","8B"], "range": ["#1589c2","#ff8833","#1fa443","#ea2f48"]}, "legend": null},
                    "y": {"field": "f", "type": "quantitative", "scale": {"type": "log", "domain": [0.357, 1.488], "nice": false},
                      "axis": {"title": "Loss", "values": [0.4, 0.5, 0.6, 0.7, 0.8, 0.9, 1], "labelExpr": "datum.value == 1 ? '10⁰' : datum.value == 0.6 ? '6 × 10⁻¹' : datum.value == 0.4 ? '4 × 10⁻¹' : ''", "grid": true,
                        "gridOpacity": {"condition": {"test": "datum.value == 1", "value": 1}, "value": 0},
                        "tickSize": {"condition": {"test": "datum.value == 1", "value": 3.5}, "value": 2}, "labelFontSize": 9, "titleFontSize": 9.5, "minExtent": 42, "maxExtent": 42, "titlePadding": 4.5}}}}
              ]
            },
            {
              "width": 332, "height": 244,
              "title": {"text": "CF One Unseen", "fontSize": 11, "offset": 3},
              "transform": [{"filter": "datum.p == 'co'"}],
              "resolve": {"legend": {"color": "independent"}},
              "encoding": {
                "x": {"field": "x", "type": "quantitative", "scale": {"type": "log", "domain": [0.01274, 257.3], "nice": false},
                  "axis": {"values": [0.02,0.03,0.04,0.05,0.06,0.07,0.08,0.09,0.1,0.2,0.3,0.4,0.5,0.6,0.7,0.8,0.9,1,2,3,4,5,6,7,8,9,10,20,30,40,50,60,70,80,90,100,200], "labels": false, "title": null, "grid": true,
                    "gridOpacity": {"condition": {"test": "datum.value==0.1||datum.value==1||datum.value==10||datum.value==100", "value": 1}, "value": 0},
                    "tickSize": {"condition": {"test": "datum.value==0.1||datum.value==1||datum.value==10||datum.value==100", "value": 3.5}, "value": 2}}},
                "y": {"field": "y", "type": "quantitative", "scale": {"type": "log", "domain": [0.357, 1.488], "nice": false},
                  "axis": {"title": null, "labels": false, "values": [0.4, 0.5, 0.6, 0.7, 0.8, 0.9, 1], "grid": true, "minExtent": 0, "maxExtent": 0,
                    "gridOpacity": {"condition": {"test": "datum.value == 1", "value": 1}, "value": 0},
                    "tickSize": {"condition": {"test": "datum.value == 1", "value": 3.5}, "value": 2}}}
              },
              "layer": [
                {"mark": {"type": "line", "strokeWidth": 1.5, "opacity": 0.85},
                  "encoding": {"color": {"field": "m", "type": "nominal", "scale": {"domain": ["0.6B","1.7B","4B","8B"], "range": ["#1589c2","#ff8833","#1fa443","#ea2f48"]}, "legend": null}}},
                {"mark": {"type": "point", "filled": true, "size": 28, "opacity": 0.85},
                  "encoding": {"color": {"field": "m", "type": "nominal", "scale": {"domain": ["0.6B","1.7B","4B","8B"], "range": ["#1589c2","#ff8833","#1fa443","#ea2f48"]},
                    "legend": {"labelFontSize": 7.3, "symbolSize": 36, "labelOffset": 10, "rowPadding": 2.5,
                      "labelExpr": "datum.label == '0.6B' ? '0.6B L∞=0.34 α=0.287' : datum.label == '1.7B' ? '1.7B L∞=0.34 α=0.315' : datum.label == '4B' ? '4B L∞=0.35 α=0.358' : '8B L∞=0.35 α=0.342'"}}}},
                {"mark": {"type": "line", "strokeWidth": 1.2, "strokeDash": [4.5, 2], "opacity": 0.65},
                  "encoding": {"color": {"field": "m", "type": "nominal", "scale": {"domain": ["0.6B","1.7B","4B","8B"], "range": ["#1589c2","#ff8833","#1fa443","#ea2f48"]}, "legend": null},
                    "y": {"field": "f", "type": "quantitative", "scale": {"type": "log", "domain": [0.357, 1.488], "nice": false},
                      "axis": {"title": null, "labels": false, "values": [0.4, 0.5, 0.6, 0.7, 0.8, 0.9, 1], "grid": true, "minExtent": 0, "maxExtent": 0,
                        "gridOpacity": {"condition": {"test": "datum.value == 1", "value": 1}, "value": 0},
                        "tickSize": {"condition": {"test": "datum.value == 1", "value": 3.5}, "value": 2}}}}}
              ]
            },
            {
              "width": 331, "height": 244,
              "title": {"text": "CF Both Unseen", "fontSize": 11, "offset": 3},
              "transform": [{"filter": "datum.p == 'cu'"}],
              "resolve": {"legend": {"color": "independent"}},
              "encoding": {
                "x": {"field": "x", "type": "quantitative", "scale": {"type": "log", "domain": [0.01274, 257.3], "nice": false},
                  "axis": {"values": [0.02,0.03,0.04,0.05,0.06,0.07,0.08,0.09,0.1,0.2,0.3,0.4,0.5,0.6,0.7,0.8,0.9,1,2,3,4,5,6,7,8,9,10,20,30,40,50,60,70,80,90,100,200], "labels": false, "title": null, "grid": true,
                    "gridOpacity": {"condition": {"test": "datum.value==0.1||datum.value==1||datum.value==10||datum.value==100", "value": 1}, "value": 0},
                    "tickSize": {"condition": {"test": "datum.value==0.1||datum.value==1||datum.value==10||datum.value==100", "value": 3.5}, "value": 2}}},
                "y": {"field": "y", "type": "quantitative", "scale": {"type": "log", "domain": [0.357, 1.488], "nice": false},
                  "axis": {"title": null, "labels": false, "values": [0.4, 0.5, 0.6, 0.7, 0.8, 0.9, 1], "grid": true, "minExtent": 0, "maxExtent": 0,
                    "gridOpacity": {"condition": {"test": "datum.value == 1", "value": 1}, "value": 0},
                    "tickSize": {"condition": {"test": "datum.value == 1", "value": 3.5}, "value": 2}}}
              },
              "layer": [
                {"mark": {"type": "line", "strokeWidth": 1.5, "opacity": 0.85},
                  "encoding": {"color": {"field": "m", "type": "nominal", "scale": {"domain": ["0.6B","1.7B","4B","8B"], "range": ["#1589c2","#ff8833","#1fa443","#ea2f48"]}, "legend": null}}},
                {"mark": {"type": "point", "filled": true, "size": 28, "opacity": 0.85},
                  "encoding": {"color": {"field": "m", "type": "nominal", "scale": {"domain": ["0.6B","1.7B","4B","8B"], "range": ["#1589c2","#ff8833","#1fa443","#ea2f48"]},
                    "legend": {"labelFontSize": 7.3, "symbolSize": 36, "labelOffset": 10, "rowPadding": 2.5,
                      "labelExpr": "datum.label == '0.6B' ? '0.6B L∞=0.34 α=0.286' : datum.label == '1.7B' ? '1.7B L∞=0.34 α=0.314' : datum.label == '4B' ? '4B L∞=0.35 α=0.355' : '8B L∞=0.36 α=0.358'"}}}},
                {"mark": {"type": "line", "strokeWidth": 1.2, "strokeDash": [4.5, 2], "opacity": 0.65},
                  "encoding": {"color": {"field": "m", "type": "nominal", "scale": {"domain": ["0.6B","1.7B","4B","8B"], "range": ["#1589c2","#ff8833","#1fa443","#ea2f48"]}, "legend": null},
                    "y": {"field": "f", "type": "quantitative", "scale": {"type": "log", "domain": [0.357, 1.488], "nice": false},
                      "axis": {"title": null, "labels": false, "values": [0.4, 0.5, 0.6, 0.7, 0.8, 0.9, 1], "grid": true, "minExtent": 0, "maxExtent": 0,
                        "gridOpacity": {"condition": {"test": "datum.value == 1", "value": 1}, "value": 0},
                        "tickSize": {"condition": {"test": "datum.value == 1", "value": 3.5}, "value": 2}}}}}
              ]
            }
          ],
          "spacing": 4.5, "bounds": "full",
          "resolve": {"scale": {"color": "independent"}, "legend": {"color": "independent"}}
        }
      ],
      "spacing": 0, "bounds": "full",
      "resolve": {"scale": {"color": "independent"}, "legend": {"color": "independent"}}
    },
    {
      "hconcat": [
        {"width": 8.5, "height": 1, "view": {"stroke": null}, "data": {"values": []}, "mark": {"type": "point", "opacity": 0}},
        {
          "hconcat": [
            {
              "width": 482, "height": 353,
              "title": {"text": "UIH Full (avg)", "fontSize": 17, "offset": 2.25},
              "transform": [{"filter": "datum.p == 'uf'"}],
              "resolve": {"legend": {"color": "independent"}},
              "encoding": {
                "x": {"field": "x", "type": "quantitative", "scale": {"type": "log", "domain": [0.01274, 257.3], "nice": false},
                  "axis": {"values": [0.02,0.03,0.04,0.05,0.06,0.07,0.08,0.09,0.1,0.2,0.3,0.4,0.5,0.6,0.7,0.8,0.9,1,2,3,4,5,6,7,8,9,10,20,30,40,50,60,70,80,90,100,200], "title": "Training Tokens (Billions)", "labelOverlap": false, "labelPadding": 0, "labelFontSize": 13, "titleFontSize": 15, "titlePadding": 14,
                    "labelExpr": "datum.value == 0.1 ? '10⁻¹' : datum.value == 1 ? '10⁰' : datum.value == 10 ? '10¹' : datum.value == 100 ? '10²' : ''", "grid": true,
                    "gridOpacity": {"condition": {"test": "datum.value==0.1||datum.value==1||datum.value==10||datum.value==100", "value": 1}, "value": 0},
                    "tickSize": {"condition": {"test": "datum.value==0.1||datum.value==1||datum.value==10||datum.value==100", "value": 3.5}, "value": 2}}},
                "y": {"field": "y", "type": "quantitative", "scale": {"type": "log", "domain": [0.616, 3.05], "nice": false},
                  "axis": {"title": "Loss", "values": [0.7, 0.8, 0.9, 1, 2, 3], "labelExpr": "datum.value == 1 ? '10⁰' : datum.value == 2 ? '2 × 10⁰' : datum.value == 3 ? '3 × 10⁰' : ''", "grid": true,
                    "gridOpacity": {"condition": {"test": "datum.value == 1", "value": 1}, "value": 0},
                    "tickSize": {"condition": {"test": "datum.value == 1", "value": 3.5}, "value": 2}, "labelFontSize": 13, "titleFontSize": 14.5, "minExtent": 58, "maxExtent": 58, "titlePadding": 7}}
              },
              "layer": [
                {"mark": {"type": "line", "strokeWidth": 2.5, "opacity": 0.85},
                  "encoding": {"color": {"field": "m", "type": "nominal", "scale": {"domain": ["0.6B","1.7B","4B","8B"], "range": ["#1589c2","#ff8833","#1fa443","#ea2f48"]}, "legend": null}}},
                {"mark": {"type": "point", "filled": true, "size": 64, "opacity": 0.85},
                  "encoding": {"color": {"field": "m", "type": "nominal", "scale": {"domain": ["0.6B","1.7B","4B","8B"], "range": ["#1589c2","#ff8833","#1fa443","#ea2f48"]},
                    "legend": {"labelFontSize": 11, "symbolSize": 81, "labelOffset": 16, "rowPadding": 4.8,
                      "labelExpr": "datum.label == '0.6B' ? '0.6B L∞=0.64 α=0.453' : datum.label == '1.7B' ? '1.7B L∞=0.65 α=0.514' : datum.label == '4B' ? '4B L∞=0.66 α=0.564' : '8B L∞=0.66 α=0.588'"}}}},
                {"mark": {"type": "line", "strokeWidth": 2, "strokeDash": [6, 2.6], "opacity": 0.6},
                  "encoding": {"color": {"field": "m", "type": "nominal", "scale": {"domain": ["0.6B","1.7B","4B","8B"], "range": ["#1589c2","#ff8833","#1fa443","#ea2f48"]}, "legend": null},
                    "y": {"field": "f", "type": "quantitative", "scale": {"type": "log", "domain": [0.616, 3.05], "nice": false},
                      "axis": {"title": "Loss", "values": [0.7, 0.8, 0.9, 1, 2, 3], "labelExpr": "datum.value == 1 ? '10⁰' : datum.value == 2 ? '2 × 10⁰' : datum.value == 3 ? '3 × 10⁰' : ''", "grid": true,
                        "gridOpacity": {"condition": {"test": "datum.value == 1", "value": 1}, "value": 0},
                        "tickSize": {"condition": {"test": "datum.value == 1", "value": 3.5}, "value": 2}, "labelFontSize": 13, "titleFontSize": 14.5, "minExtent": 58, "maxExtent": 58, "titlePadding": 7}}}}
              ]
            },
            {
              "width": 481, "height": 353,
              "title": {"text": "UIH OOD (avg)", "fontSize": 17, "offset": 2.25},
              "transform": [{"filter": "datum.p == 'uo'"}],
              "resolve": {"legend": {"color": "independent"}},
              "encoding": {
                "x": {"field": "x", "type": "quantitative", "scale": {"type": "log", "domain": [0.01274, 257.3], "nice": false},
                  "axis": {"values": [0.02,0.03,0.04,0.05,0.06,0.07,0.08,0.09,0.1,0.2,0.3,0.4,0.5,0.6,0.7,0.8,0.9,1,2,3,4,5,6,7,8,9,10,20,30,40,50,60,70,80,90,100,200], "title": "Training Tokens (Billions)", "labelOverlap": false, "labelPadding": 0, "labelFontSize": 13, "titleFontSize": 15, "titlePadding": 14,
                    "labelExpr": "datum.value == 0.1 ? '10⁻¹' : datum.value == 1 ? '10⁰' : datum.value == 10 ? '10¹' : datum.value == 100 ? '10²' : ''", "grid": true,
                    "gridOpacity": {"condition": {"test": "datum.value==0.1||datum.value==1||datum.value==10||datum.value==100", "value": 1}, "value": 0},
                    "tickSize": {"condition": {"test": "datum.value==0.1||datum.value==1||datum.value==10||datum.value==100", "value": 3.5}, "value": 2}}},
                "y": {"field": "y", "type": "quantitative", "scale": {"type": "log", "domain": [0.648, 3.058], "nice": false},
                  "axis": {"title": null, "labels": false, "values": [0.7, 0.8, 0.9, 1, 2, 3], "grid": true, "minExtent": 0, "maxExtent": 0,
                    "gridOpacity": {"condition": {"test": "datum.value == 1", "value": 1}, "value": 0},
                    "tickSize": {"condition": {"test": "datum.value == 1", "value": 3.5}, "value": 2}}}
              },
              "layer": [
                {"mark": {"type": "line", "strokeWidth": 2.5, "opacity": 0.85},
                  "encoding": {"color": {"field": "m", "type": "nominal", "scale": {"domain": ["0.6B","1.7B","4B","8B"], "range": ["#1589c2","#ff8833","#1fa443","#ea2f48"]}, "legend": null}}},
                {"mark": {"type": "point", "filled": true, "size": 64, "opacity": 0.85},
                  "encoding": {"color": {"field": "m", "type": "nominal", "scale": {"domain": ["0.6B","1.7B","4B","8B"], "range": ["#1589c2","#ff8833","#1fa443","#ea2f48"]},
                    "legend": {"labelFontSize": 11, "symbolSize": 81, "labelOffset": 16, "rowPadding": 4.8,
                      "labelExpr": "datum.label == '0.6B' ? '0.6B L∞=0.69 α=0.555' : datum.label == '1.7B' ? '1.7B L∞=0.70 α=0.639' : datum.label == '4B' ? '4B L∞=0.69 α=0.660' : '8B L∞=0.70 α=0.689'"}}}},
                {"mark": {"type": "line", "strokeWidth": 2, "strokeDash": [6, 2.6], "opacity": 0.6},
                  "encoding": {"color": {"field": "m", "type": "nominal", "scale": {"domain": ["0.6B","1.7B","4B","8B"], "range": ["#1589c2","#ff8833","#1fa443","#ea2f48"]}, "legend": null},
                    "y": {"field": "f", "type": "quantitative", "scale": {"type": "log", "domain": [0.648, 3.058], "nice": false},
                      "axis": {"title": null, "labels": false, "values": [0.7, 0.8, 0.9, 1, 2, 3], "grid": true, "minExtent": 0, "maxExtent": 0,
                        "gridOpacity": {"condition": {"test": "datum.value == 1", "value": 1}, "value": 0},
                        "tickSize": {"condition": {"test": "datum.value == 1", "value": 3.5}, "value": 2}}}}}
              ]
            }
          ],
          "spacing": 12.5, "bounds": "full",
          "resolve": {"scale": {"color": "independent"}, "legend": {"color": "independent"}}
        }
      ],
      "spacing": 0, "bounds": "full",
      "resolve": {"scale": {"color": "independent"}, "legend": {"color": "independent"}}
    }
  ]
}
